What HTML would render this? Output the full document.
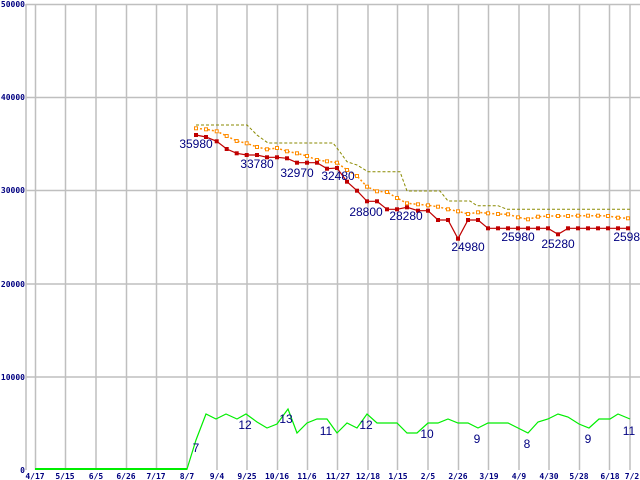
<!DOCTYPE html>
<html><head><meta charset="utf-8"><style>
html,body{margin:0;padding:0;background:#fff;}
svg{display:block;}
.ax{font-family:"DejaVu Sans Mono","Liberation Mono",monospace;font-size:8px;font-weight:bold;fill:#000080;}
.lb{font-family:"Liberation Sans",sans-serif;font-size:12px;fill:#000080;}
</style></head><body>
<svg width="640" height="480" viewBox="0 0 640 480" xmlns="http://www.w3.org/2000/svg">
<g stroke="#bfbfbf" stroke-width="1.5" fill="none">
<line x1="26" y1="4.5" x2="640" y2="4.5"/>
<line x1="26" y1="97.5" x2="640" y2="97.5"/>
<line x1="26" y1="190.5" x2="640" y2="190.5"/>
<line x1="26" y1="284" x2="640" y2="284"/>
<line x1="26" y1="377" x2="640" y2="377"/>
<line x1="26" y1="4" x2="26" y2="470"/>
<line x1="35.5" y1="4" x2="35.5" y2="470"/>
<line x1="65.5" y1="4" x2="65.5" y2="470"/>
<line x1="96" y1="4" x2="96" y2="470"/>
<line x1="126.5" y1="4" x2="126.5" y2="470"/>
<line x1="156.5" y1="4" x2="156.5" y2="470"/>
<line x1="187" y1="4" x2="187" y2="470"/>
<line x1="217" y1="4" x2="217" y2="470"/>
<line x1="247" y1="4" x2="247" y2="470"/>
<line x1="277.5" y1="4" x2="277.5" y2="470"/>
<line x1="307.5" y1="4" x2="307.5" y2="470"/>
<line x1="337.5" y1="4" x2="337.5" y2="470"/>
<line x1="368" y1="4" x2="368" y2="470"/>
<line x1="397.5" y1="4" x2="397.5" y2="470"/>
<line x1="428" y1="4" x2="428" y2="470"/>
<line x1="458.5" y1="4" x2="458.5" y2="470"/>
<line x1="488.5" y1="4" x2="488.5" y2="470"/>
<line x1="519" y1="4" x2="519" y2="470"/>
<line x1="549" y1="4" x2="549" y2="470"/>
<line x1="579.5" y1="4" x2="579.5" y2="470"/>
<line x1="609.5" y1="4" x2="609.5" y2="470"/>
<line x1="630" y1="4" x2="630" y2="470"/>
</g>
<g class="ax" text-anchor="end">
<text x="25" y="7">50000</text><text x="25" y="100">40000</text><text x="25" y="193">30000</text>
<text x="25" y="287">20000</text><text x="25" y="380">10000</text><text x="25" y="473">0</text>
</g>
<g class="ax" text-anchor="middle">
<text x="35" y="479">4/17</text><text x="65" y="479">5/15</text><text x="96" y="479">6/5</text>
<text x="126" y="479">6/26</text><text x="156" y="479">7/17</text><text x="187" y="479">8/7</text>
<text x="217" y="479">9/4</text><text x="247" y="479">9/25</text><text x="277" y="479">10/16</text>
<text x="307" y="479">11/6</text><text x="338" y="479">11/27</text><text x="368" y="479">12/18</text>
<text x="398" y="479">1/15</text><text x="428" y="479">2/5</text><text x="458" y="479">2/26</text>
<text x="489" y="479">3/19</text><text x="519" y="479">4/9</text><text x="549" y="479">4/30</text>
<text x="579" y="479">5/28</text><text x="610" y="479">6/18</text><text x="632" y="479">7/2</text>
</g>
<!-- olive dashed -->
<polyline fill="none" stroke="#8a8a00" stroke-width="1" stroke-dasharray="3,2" points="196,125 247,125 257,135 268,143 333,143 340,152 347,161.7 357,165 368,171.7 400,171.7 407,191 440,191 448,201 470,201 477,205.7 498,205.7 507,209.3 630,209.3"/>
<!-- orange -->
<polyline fill="none" stroke="#ff8c00" stroke-width="1.5" stroke-dasharray="2,2" points="196,128.3 206,129.3 216.7,131.3 226.7,136 236.7,141 246.7,143.3 257,147 267,149.3 277,148 287,151.3 297,153.3 307,156 317,160 327,161.3 337,162.7 347,170 357,176 367,186.7 377,191.3 387,192 397,198 407,203.3 418,204.3 428,205.3 438,206.7 448,209.3 458,211.3 468,214 478,212.3 488,213.3 498,214 508,214.3 518,217.3 528,219.3 538,216.7 548,216 558,216 568,216 578,215.7 588,215.7 598,215.7 608,216 618,217.7 628,218.3"/>
<g fill="#fff" stroke="#ff8c00" stroke-width="1">
<rect x="194.5" y="126.8" width="3" height="3"/><rect x="204.5" y="127.8" width="3" height="3"/><rect x="215.2" y="129.8" width="3" height="3"/><rect x="225.2" y="134.5" width="3" height="3"/><rect x="235.2" y="139.5" width="3" height="3"/><rect x="245.2" y="141.8" width="3" height="3"/><rect x="255.5" y="145.5" width="3" height="3"/><rect x="265.5" y="147.8" width="3" height="3"/><rect x="275.5" y="146.5" width="3" height="3"/><rect x="285.5" y="149.8" width="3" height="3"/><rect x="295.5" y="151.8" width="3" height="3"/><rect x="305.5" y="154.5" width="3" height="3"/><rect x="315.5" y="158.5" width="3" height="3"/><rect x="325.5" y="159.8" width="3" height="3"/><rect x="335.5" y="161.2" width="3" height="3"/><rect x="345.5" y="168.5" width="3" height="3"/><rect x="355.5" y="174.5" width="3" height="3"/><rect x="365.5" y="185.2" width="3" height="3"/><rect x="375.5" y="189.8" width="3" height="3"/><rect x="385.5" y="190.5" width="3" height="3"/><rect x="395.5" y="196.5" width="3" height="3"/><rect x="405.5" y="201.8" width="3" height="3"/><rect x="416.5" y="202.8" width="3" height="3"/><rect x="426.5" y="203.8" width="3" height="3"/><rect x="436.5" y="205.2" width="3" height="3"/><rect x="446.5" y="207.8" width="3" height="3"/><rect x="456.5" y="209.8" width="3" height="3"/><rect x="466.5" y="212.5" width="3" height="3"/><rect x="476.5" y="210.8" width="3" height="3"/><rect x="486.5" y="211.8" width="3" height="3"/><rect x="496.5" y="212.5" width="3" height="3"/><rect x="506.5" y="212.8" width="3" height="3"/><rect x="516.5" y="215.8" width="3" height="3"/><rect x="526.5" y="217.8" width="3" height="3"/><rect x="536.5" y="215.2" width="3" height="3"/><rect x="546.5" y="214.5" width="3" height="3"/><rect x="556.5" y="214.5" width="3" height="3"/><rect x="566.5" y="214.5" width="3" height="3"/><rect x="576.5" y="214.2" width="3" height="3"/><rect x="586.5" y="214.2" width="3" height="3"/><rect x="596.5" y="214.2" width="3" height="3"/><rect x="606.5" y="214.5" width="3" height="3"/><rect x="616.5" y="216.2" width="3" height="3"/><rect x="626.5" y="216.8" width="3" height="3"/>
</g>
<!-- red -->
<polyline fill="none" stroke="#c00000" stroke-width="1.2" points="196,135 206,137 216.7,141.3 226.7,149 236.7,153.3 246.7,155 257,155 267,157.3 277,157.3 287,158.3 297,162.7 307,162.7 317,162.7 327,168.7 337,168 347,181.7 357,190.7 367,201.3 377,201.3 387,209.3 397,209.3 407,207.3 418,210.7 428,210.7 438,220 448,220 458,238.7 468,220 478,220 488,228.3 498,228.3 508,228.3 518,228.3 528,228.3 538,228.3 548,228.3 558,234.3 568,228.3 578,228.3 588,228.3 598,228.3 608,228.3 618,228.3 628,228.3"/>
<g fill="#c00000">
<rect x="194" y="133" width="4" height="4"/><rect x="204" y="135" width="4" height="4"/><rect x="214.7" y="139.3" width="4" height="4"/><rect x="224.7" y="147" width="4" height="4"/><rect x="234.7" y="151.3" width="4" height="4"/><rect x="244.7" y="153" width="4" height="4"/><rect x="255" y="153" width="4" height="4"/><rect x="265" y="155.3" width="4" height="4"/><rect x="275" y="155.3" width="4" height="4"/><rect x="285" y="156.3" width="4" height="4"/><rect x="295" y="160.7" width="4" height="4"/><rect x="305" y="160.7" width="4" height="4"/><rect x="315" y="160.7" width="4" height="4"/><rect x="325" y="166.7" width="4" height="4"/><rect x="335" y="166" width="4" height="4"/><rect x="345" y="179.7" width="4" height="4"/><rect x="355" y="188.7" width="4" height="4"/><rect x="365" y="199.3" width="4" height="4"/><rect x="375" y="199.3" width="4" height="4"/><rect x="385" y="207.3" width="4" height="4"/><rect x="395" y="207.3" width="4" height="4"/><rect x="405" y="205.3" width="4" height="4"/><rect x="416" y="208.7" width="4" height="4"/><rect x="426" y="208.7" width="4" height="4"/><rect x="436" y="218" width="4" height="4"/><rect x="446" y="218" width="4" height="4"/><rect x="456" y="236.7" width="4" height="4"/><rect x="466" y="218" width="4" height="4"/><rect x="476" y="218" width="4" height="4"/><rect x="486" y="226.3" width="4" height="4"/><rect x="496" y="226.3" width="4" height="4"/><rect x="506" y="226.3" width="4" height="4"/><rect x="516" y="226.3" width="4" height="4"/><rect x="526" y="226.3" width="4" height="4"/><rect x="536" y="226.3" width="4" height="4"/><rect x="546" y="226.3" width="4" height="4"/><rect x="556" y="232.3" width="4" height="4"/><rect x="566" y="226.3" width="4" height="4"/><rect x="576" y="226.3" width="4" height="4"/><rect x="586" y="226.3" width="4" height="4"/><rect x="596" y="226.3" width="4" height="4"/><rect x="606" y="226.3" width="4" height="4"/><rect x="616" y="226.3" width="4" height="4"/><rect x="626" y="226.3" width="4" height="4"/>
</g>
<!-- green -->
<polyline fill="none" stroke="#00ee00" stroke-width="1.2" points="35,469 187,469 196,440 206,414 216,419 226,414 237,419 246,414 257,422 267,428 277,424 288,409 297,433 307,423 317,419 327,419 337,433 347,423 357,428 367,414 377,423 387,423 397,423 407,433 417,433 428,423 438,423 448,419 458,423 468,423 478,428 488,423 498,423 508,423 518,428 528,433 538,422 548,419 558,414 568,417 579,424 589,428 599,419 610,419 618,414 630,419"/>
<polyline fill="none" stroke="#00ee00" stroke-width="2" points="35,469 187,469"/>
<g class="lb" text-anchor="middle">
<text x="196" y="452">7</text><text x="245" y="429">12</text><text x="286" y="423">13</text>
<text x="326" y="435">11</text><text x="366" y="429">12</text><text x="427" y="438">10</text>
<text x="477" y="443">9</text><text x="527" y="448">8</text><text x="588" y="443">9</text><text x="629" y="435">11</text>
<text x="196" y="148">35980</text><text x="257" y="168">33780</text><text x="297" y="177">32970</text>
<text x="338" y="180">32480</text><text x="366" y="216">28800</text><text x="406" y="220">28280</text>
<text x="468" y="251">24980</text><text x="518" y="241">25980</text><text x="558" y="248">25280</text>
<text x="630" y="241">25980</text>
</g>
</svg>
</body></html>
